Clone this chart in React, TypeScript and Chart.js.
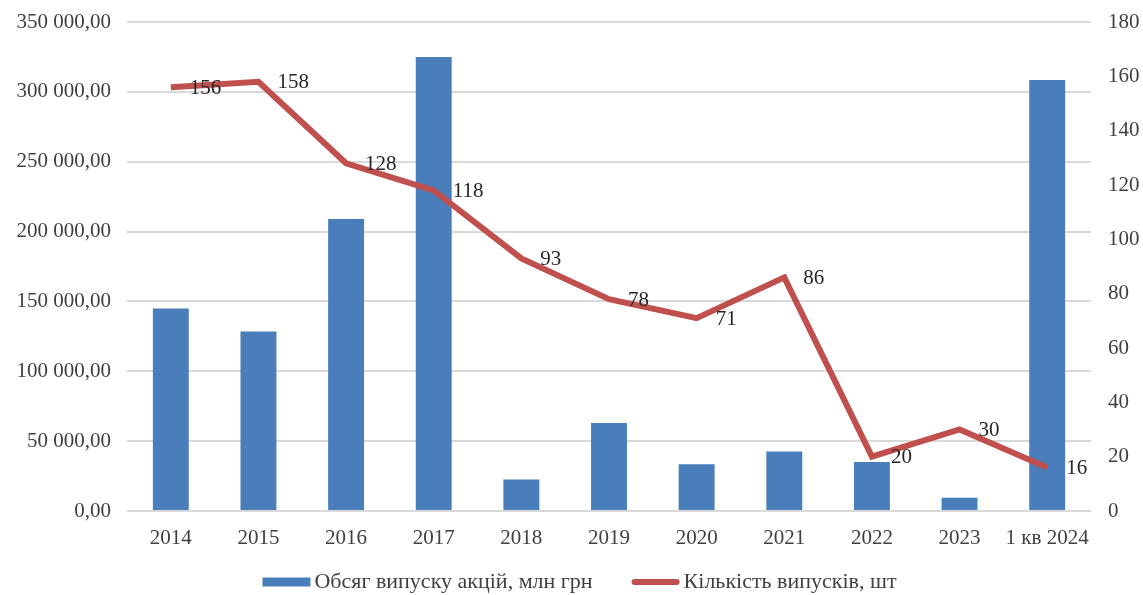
import { useEffect, useRef } from "react";
import Chart from "chart.js/auto";

const years = ["2014", "2015", "2016", "2017", "2018", "2019", "2020", "2021", "2022", "2023", "1 кв 2024"];
const volume = [145000, 128500, 209000, 325000, 22500, 63000, 33500, 42500, 35000, 9500, 308500];
const issues = [156, 158, 128, 118, 93, 78, 71, 86, 20, 30, 16];

const FONT = "'Liberation Serif', 'Times New Roman', serif";
const TEXT = "#404040";

const fmt = (v: number) =>
  v.toLocaleString("en-US", { minimumFractionDigits: 2, maximumFractionDigits: 2 }).replace(/,/g, " ").replace(".", ",");

const pointLabels = {
  id: "pointLabels",
  afterDatasetsDraw(chart: Chart) {
    const ctx = chart.ctx;
    const meta = chart.getDatasetMeta(1);
    ctx.save();
    ctx.font = `21px ${FONT}`;
    ctx.fillStyle = "#262626";
    ctx.textAlign = "left";
    ctx.textBaseline = "middle";
    meta.data.forEach((p: any, i: number) => {
      ctx.fillText(String(issues[i]), p.x + 19, p.y + 1);
    });
    ctx.restore();
  },
};

// legend drawn by hand so its spacing can match the original
const bottomLegend = {
  id: "bottomLegend",
  afterDraw(chart: Chart) {
    const ctx = chart.ctx;
    const ds = chart.data.datasets as any[];
    ctx.save();
    ctx.font = `22px ${FONT}`;
    ctx.textBaseline = "middle";
    ctx.textAlign = "left";
    const sym = 48, gap = 4, spacing = 39;
    const widths = ds.map((d) => ctx.measureText(d.label).width);
    const total = widths.reduce((a, w) => a + sym + gap + w, 0) + spacing * (ds.length - 1);
    let x = chart.width / 2 - total / 2 + 8;
    const y = chart.height - 13;
    ds.forEach((d, i) => {
      if (d.type === "line") {
        ctx.strokeStyle = d.borderColor;
        ctx.lineWidth = 6;
        ctx.lineCap = "round";
        ctx.beginPath();
        ctx.moveTo(x + 3, y);
        ctx.lineTo(x + sym - 3, y);
        ctx.stroke();
      } else {
        ctx.fillStyle = d.backgroundColor;
        ctx.fillRect(x, y - 4.5, sym, 9);
      }
      x += sym + gap;
      ctx.fillStyle = TEXT;
      ctx.fillText(d.label, x, y);
      x += widths[i] + spacing;
    });
    ctx.restore();
  },
};

const noPad = (s: any) => {
  s.paddingTop = 0;
  s.paddingBottom = 0;
};

export default function App() {
  const ref = useRef<HTMLCanvasElement>(null);
  const chart = useRef<Chart | null>(null);

  useEffect(() => {
    if (!ref.current) return;
    chart.current?.destroy();

    chart.current = new Chart(ref.current, {
      type: "bar",
      data: {
        labels: years,
        datasets: [
          {
            type: "bar",
            label: "Обсяг випуску акцій, млн грн",
            data: volume,
            backgroundColor: "#4a7ebb",
            borderWidth: 0,
            barPercentage: 0.41,
            categoryPercentage: 1,
            yAxisID: "y",
            order: 2,
          } as any,
          {
            type: "line",
            label: "Кількість випусків, шт",
            data: issues,
            borderColor: "#c0504d",
            backgroundColor: "#c0504d",
            borderWidth: 6,
            pointRadius: 0,
            tension: 0,
            yAxisID: "y1",
            order: 1,
          } as any,
        ],
      },
      options: {
        responsive: true,
        maintainAspectRatio: false,
        animation: false,
        layout: { padding: { top: 22, left: 4, right: 4, bottom: 46 } },
        plugins: {
          tooltip: { enabled: false },
          legend: { display: false },
        },
        scales: {
          x: {
            grid: { display: false },
            border: { display: false },
            afterFit: (s: any) => { s.height = 38; s.paddingLeft = 0; s.paddingRight = 0; },
            ticks: { color: TEXT, font: { family: FONT, size: 21 }, maxRotation: 0, padding: 7 },
          },
          y: {
            position: "left",
            min: 0,
            max: 350000,
            afterFit: (s: any) => { s.width = 123; noPad(s); },
            ticks: { stepSize: 50000, color: TEXT, font: { family: FONT, size: 21 }, padding: 16, callback: (v: any) => fmt(Number(v)) },
            grid: { color: "#d9d9d9", lineWidth: 2, drawTicks: false },
            border: { display: false },
          },
          y1: {
            position: "right",
            min: 0,
            max: 180,
            afterFit: (s: any) => { s.width = 48; noPad(s); },
            ticks: { stepSize: 20, color: TEXT, font: { family: FONT, size: 21 }, padding: 9 },
            grid: { display: false },
            border: { display: false },
          },
        },
      },
      plugins: [pointLabels, bottomLegend],
    });

    return () => chart.current?.destroy();
  }, []);

  return (
    <div style={{ position: "fixed", left: 0, top: 0, width: 1143, height: 595, background: "#fff" }}>
      <canvas ref={ref} />
    </div>
  );
}
